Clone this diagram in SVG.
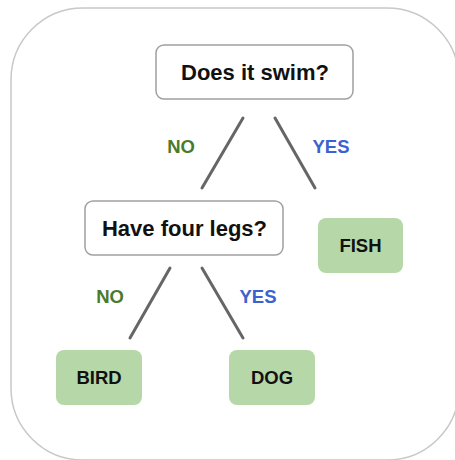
<svg xmlns="http://www.w3.org/2000/svg" width="455" height="460" viewBox="0 0 455 460">
<style>
text{font-family:"Liberation Sans",Arial,sans-serif;font-weight:bold;text-anchor:middle}
.q{fill:#fff;stroke:#a0a0a0;stroke-width:1.5}
.qt{font-size:22px;fill:#111}
.a{fill:#b6d7a8;stroke:none}
.at{font-size:18.5px;fill:#111}
.no{font-size:18.5px;fill:#4b7a2b}
.yes{font-size:18.5px;fill:#3b63cf}
.c line{stroke:#666;stroke-width:3;stroke-linecap:round}
</style>
<rect x="11" y="8" width="448" height="452" rx="72" fill="#fff" stroke="#c8c8c8" stroke-width="1.5"/>
<g class="c" id="connectors">
<line x1="243" y1="118" x2="202" y2="188"/>
<line x1="275" y1="118" x2="315" y2="188"/>
<line x1="170" y1="268" x2="130" y2="338"/>
<line x1="202" y1="268" x2="243" y2="338"/>
</g>
<g id="labels">
<text class="no" x="181" y="153">NO</text>
<text class="yes" x="331" y="153">YES</text>
<text class="no" x="110" y="303">NO</text>
<text class="yes" x="258" y="303">YES</text>
</g>
<g id="swim">
<rect class="q" x="156" y="45" width="197" height="54" rx="8"/>
<text class="qt" x="255" y="80">Does it swim?</text>
</g>
<g id="legs">
<rect class="q" x="85" y="201" width="198" height="54" rx="8"/>
<text class="qt" x="184.5" y="236">Have four legs?</text>
</g>
<g id="fish">
<rect class="a" x="318" y="218" width="85" height="55" rx="8"/>
<text class="at" x="360.5" y="252">FISH</text>
</g>
<g id="bird">
<rect class="a" x="56" y="350" width="86" height="55" rx="8"/>
<text class="at" x="99" y="384">BIRD</text>
</g>
<g id="dog">
<rect class="a" x="229" y="350" width="86" height="55" rx="8"/>
<text class="at" x="272" y="384">DOG</text>
</g>
</svg>
